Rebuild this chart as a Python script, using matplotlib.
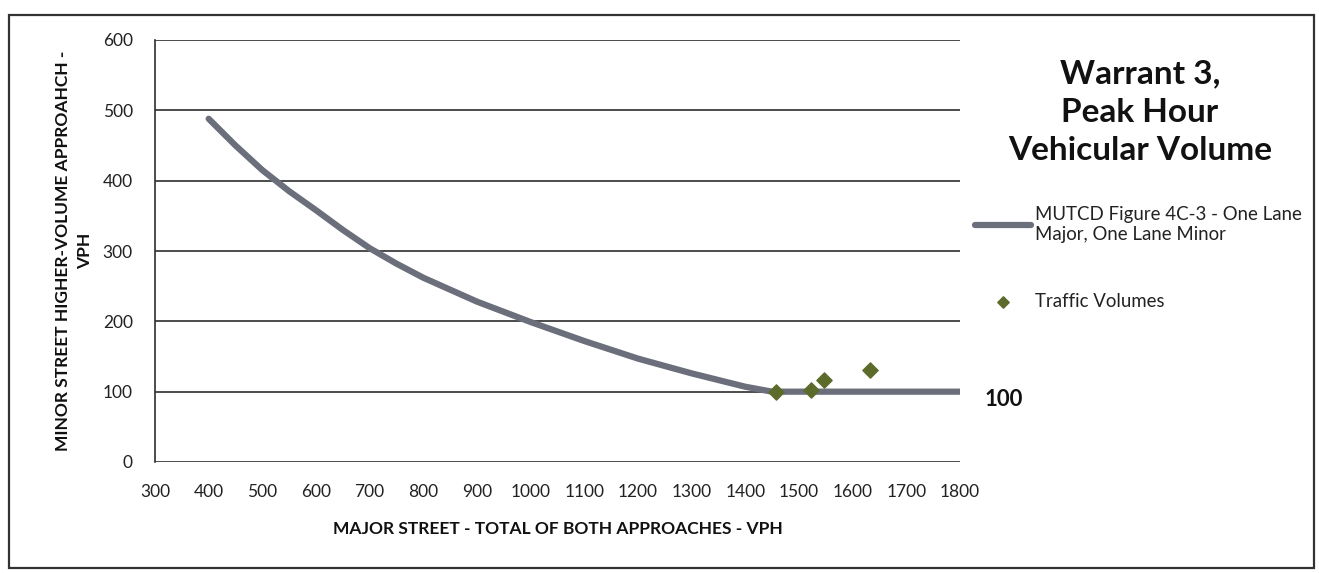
import matplotlib
matplotlib.use("Agg")
import matplotlib.pyplot as plt
from matplotlib.patches import Rectangle

plt.rcParams["font.family"] = ["Lato", "DejaVu Sans"]

# MUTCD Figure 4C-3 threshold curve (one lane major, one lane minor)
curve_major = [400, 450, 500, 550, 600, 650, 700, 750, 800, 900, 1000,
               1100, 1200, 1300, 1400, 1450, 1800]
curve_minor = [488, 450, 415, 385, 358, 330, 304, 282, 262, 228, 199,
               172, 147, 126, 107, 100, 100]

# Observed peak-hour traffic volumes
traffic_major = [1458, 1523, 1547, 1633]
traffic_minor = [100, 102, 117, 131]

x_ticks = list(range(300, 1801, 100))
y_ticks = list(range(0, 601, 100))

W, H = 1319, 573
fig = plt.figure(figsize=(W / 100, H / 100), dpi=100)
fig.patch.set_facecolor("white")

left, right, top, bottom = 155, 960, 40, 462
ax = fig.add_axes([left / W, 1 - bottom / H, (right - left) / W, (bottom - top) / H])

grid_color = "#2e2e2e"
ax.set_xlim(300, 1800)
ax.set_ylim(0, 600)
ax.set_xticks(x_ticks)
ax.set_yticks(y_ticks)
ax.set_xticklabels([str(v) for v in x_ticks], fontsize=12.5, color="#222222")
ax.set_yticklabels([str(v) for v in y_ticks], fontsize=12.5, color="#222222")
ax.tick_params(axis="both", length=0)
ax.tick_params(axis="x", pad=16)
ax.tick_params(axis="y", pad=16)
ax.yaxis.grid(True, color=grid_color, linewidth=1.2)
ax.set_axisbelow(True)
for side in ("top", "right", "bottom"):
    ax.spines[side].set_visible(False)
ax.spines["left"].set_color(grid_color)
ax.spines["left"].set_linewidth(1.2)

line, = ax.plot(curve_major, curve_minor, color="#6b6e7b", linewidth=4.5,
                solid_capstyle="round", solid_joinstyle="round", zorder=3)
pts = ax.scatter(traffic_major, traffic_minor, marker="D", s=60,
                 color="#5c6b2a", edgecolors="#5c6b2a", zorder=4)

ax.annotate(str(curve_minor[-1]), xy=(curve_major[-1], curve_minor[-1]),
            xytext=(18, -6), textcoords="offset points",
            fontsize=16, fontweight="bold", va="center", ha="left",
            color="#111111", annotation_clip=False)

ax.set_xlabel("MAJOR STREET - TOTAL OF BOTH APPROACHES - VPH",
              fontsize=12.5, fontweight="bold", labelpad=15, color="#111111")
ax.set_ylabel("MINOR STREET HIGHER-VOLUME APPROAHCH -\nVPH",
              fontsize=12.5, fontweight="bold", labelpad=7, color="#111111",
              linespacing=1.45)

fig.text(1140 / W, 1 - 112 / H, "Warrant 3,\nPeak Hour\nVehicular Volume",
         ha="center", va="center", fontsize=24, fontweight="bold",
         color="#111111", linespacing=1.4)

fig.legend(handles=[line, pts],
           labels=["MUTCD Figure 4C-3 - One Lane\nMajor, One Lane Minor",
                   "Traffic Volumes"],
           loc="upper left", bbox_to_anchor=(975 / W, 1 - 206 / H),
           frameon=False, fontsize=13.4, handlelength=3.0, handletextpad=0.2,
           labelspacing=2.7, borderpad=0, borderaxespad=0,
           labelcolor="#222222", scatterpoints=1, markerscale=0.75)

fig.add_artist(Rectangle((9 / W, 1 - 568 / H), (1314 - 9) / W, (568 - 15) / H,
                         transform=fig.transFigure, fill=False,
                         edgecolor="#333333", linewidth=1.6))

fig.savefig("out.png", dpi=100, facecolor="white")
